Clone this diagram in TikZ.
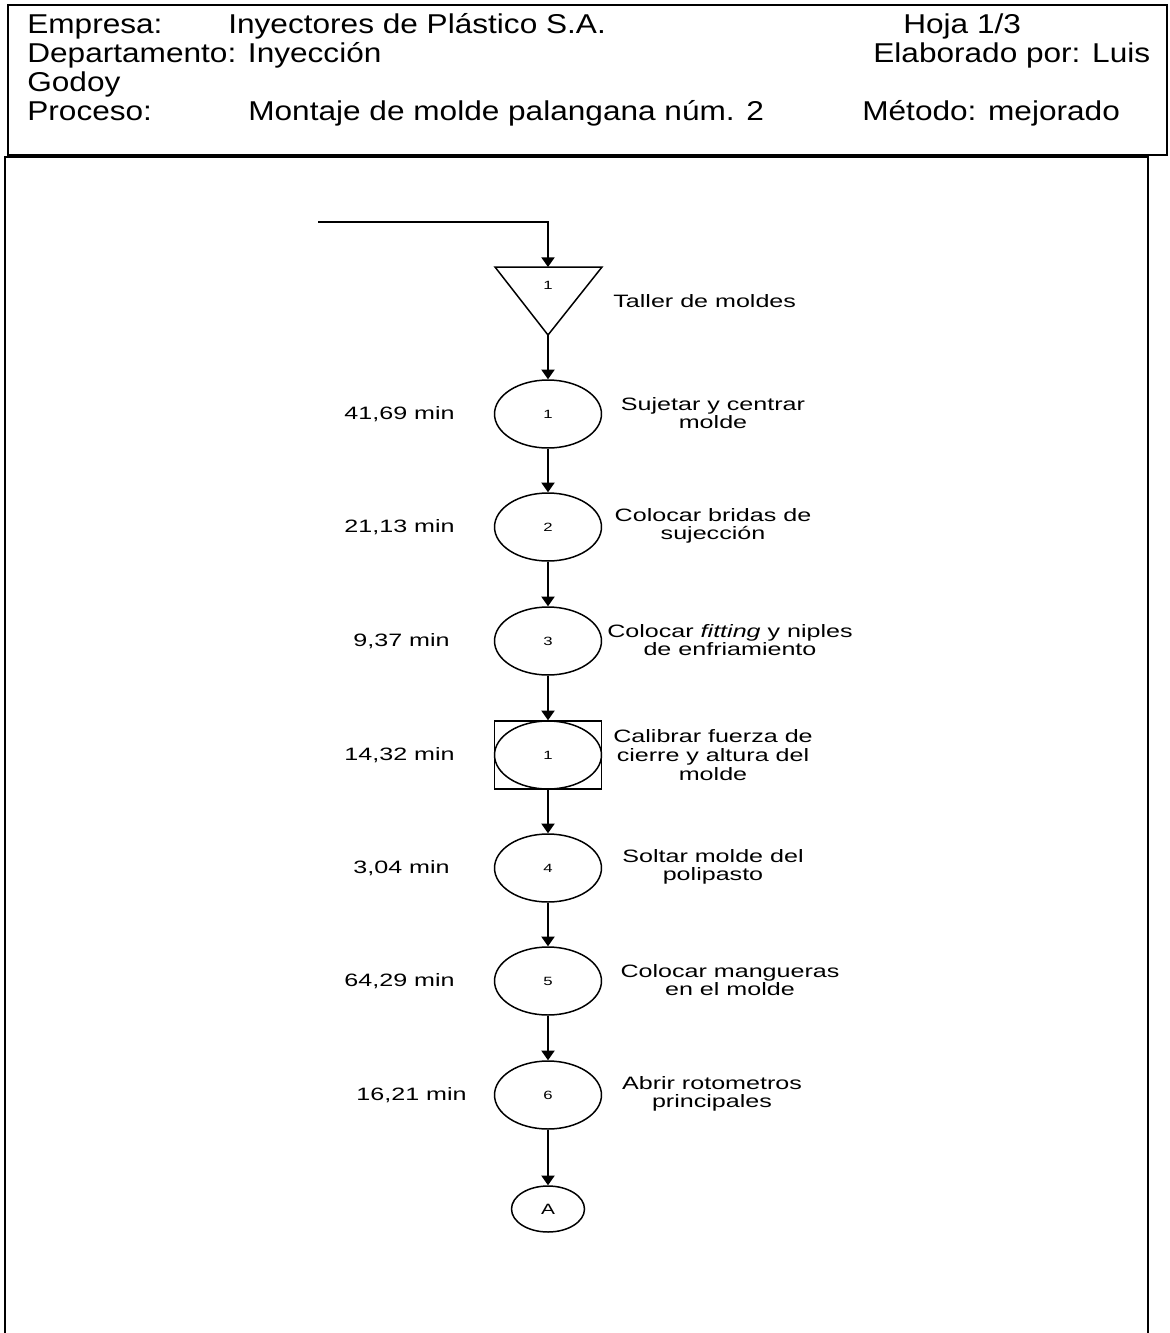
\documentclass[tikz,border=0pt]{standalone}
\usepackage{fontspec}
\setmainfont{Liberation Sans}
\newfontfamily\hojafont[FakeStretch=1.16]{Liberation Sans}
\newfontfamily\flujofont[FakeStretch=1.40]{Liberation Sans}
\usetikzlibrary{shapes.geometric,arrows.meta,positioning,calc}

\begin{document}
\begin{tikzpicture}[
    x=0.02cm, y=-0.02cm,
    encabezado/.style={anchor=base west, inner sep=0pt, font=\hojafont\fontsize{15.5}{16}\selectfont},
    operacion/.style={draw, ellipse, minimum width=2.14cm, minimum height=1.36cm, inner sep=0pt, line width=0.85pt, font=\flujofont\fontsize{6.8}{8}\selectfont},
    marco/.style={draw, rectangle, minimum width=2.14cm, minimum height=1.36cm, inner sep=0pt, line width=0.85pt},
    conector/.style={draw, ellipse, minimum width=1.46cm, minimum height=0.92cm, inner sep=0pt, line width=0.85pt, font=\flujofont\fontsize{8.5}{9}\selectfont},
    numero/.style={inner sep=0pt, font=\flujofont\fontsize{6.8}{8}\selectfont},
    tiempo/.style={anchor=east, inner sep=0pt, font=\flujofont\fontsize{10.2}{11}\selectfont},
    descripcion/.style={align=center, inner sep=0pt, font=\flujofont\fontsize{10.2}{10.6}\selectfont},
    flujo/.style={-{Triangle[width=7.5pt, length=5.5pt]}, line width=0.85pt}
]
    \useasboundingbox (0,0) rectangle (1170,1333);

    % --- Encabezado ---
    \draw[line width=1.1pt] (8,5) rectangle (1167,155);
    \node[encabezado] (empresa) at (27,33) {Empresa:};
    \node[encabezado] (empresa-v) at (228,33) {Inyectores de Plástico S.A.};
    \node[encabezado] (hoja) at (903,33) {Hoja 1/3};
    \node[encabezado] (depto) at (27,62) {Departamento: Inyección};
    \node[encabezado] (elab) at (873,62) {Elaborado por: Luis};
    \node[encabezado] (elab-2) at (27,91) {Godoy};
    \node[encabezado] (proceso) at (27,120) {Proceso:};
    \node[encabezado] (proceso-v) at (248,120) {Montaje de molde palangana núm. 2};
    \node[encabezado] (metodo) at (862,120) {Método: mejorado};

    % --- Marco del diagrama ---
    \draw[line width=1.1pt] (5,1333) -- (5,157) -- (1148,157) -- (1148,1333);

    % --- Almacenamiento inicial ---
    \coordinate (entrada) at (318,222);
    \coordinate (alm-sup) at (548,267);
    \coordinate (alm-inf) at (548,335);
    \draw[line width=0.85pt] (495,267) -- (602,267) -- (alm-inf) -- cycle;
    \node[numero] (alm) at (548,285) {1};
    \node[descripcion, anchor=west] (alm-txt) at (613,301) {Taller de moldes};

    % --- Operaciones ---
    \node[operacion] (op1) at (548,414) {1};
    \node[tiempo] (t1) at (455,414) {41,69 min};
    \node[descripcion] (d1) at (713,413) {Sujetar y centrar\\molde};

    \node[operacion] (op2) at (548,527) {2};
    \node[tiempo] (t2) at (455,527) {21,13 min};
    \node[descripcion] (d2) at (713,526) {Colocar bridas de\\sujección};

    \node[operacion] (op3) at (548,641) {3};
    \node[tiempo] (t3) at (450,641) {9,37 min};
    \node[descripcion] (d3) at (730,640) {Colocar \textit{fitting} y niples\\de enfriamiento};

    \node[marco] (calib-marco) at (548,755) {};
    \node[operacion] (calib) at (548,755) {1};
    \node[tiempo] (t4) at (455,755) {14,32 min};
    \node[descripcion] (d4) at (713,755) {Calibrar fuerza de\\cierre y altura del\\molde};

    \node[operacion] (op4) at (548,868) {4};
    \node[tiempo] (t5) at (450,868) {3,04 min};
    \node[descripcion] (d5) at (713,867) {Soltar molde del\\polipasto};

    \node[operacion] (op5) at (548,981) {5};
    \node[tiempo] (t6) at (455,981) {64,29 min};
    \node[descripcion] (d6) at (730,980) {Colocar mangueras\\en el molde};

    \node[operacion] (op6) at (548,1095) {6};
    \node[tiempo] (t7) at (467,1095) {16,21 min};
    \node[descripcion] (d7) at (712,1094) {Abrir rotometros\\principales};

    \node[conector] (conA) at (548,1209) {A};

    % --- Flechas ---
    \draw[flujo] (entrada) -| (alm-sup);
    \draw[flujo] (alm-inf) -- (op1.north);
    \draw[flujo] (op1.south) -- (op2.north);
    \draw[flujo] (op2.south) -- (op3.north);
    \draw[flujo] (op3.south) -- (calib-marco.north);
    \draw[flujo] (calib-marco.south) -- (op4.north);
    \draw[flujo] (op4.south) -- (op5.north);
    \draw[flujo] (op5.south) -- (op6.north);
    \draw[flujo] (op6.south) -- (conA.north);

\end{tikzpicture}
\end{document}
